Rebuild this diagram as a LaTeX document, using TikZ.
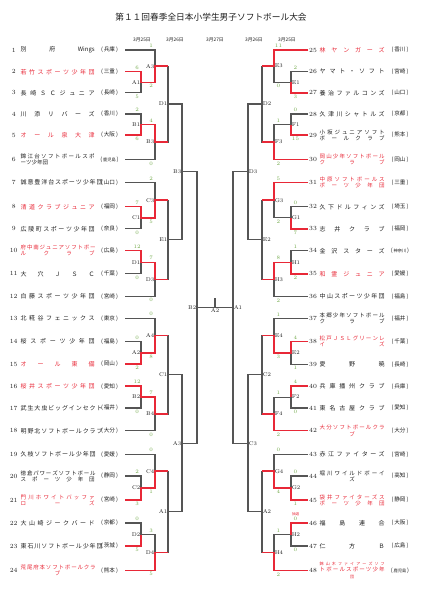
\documentclass[tikz,border=0pt]{standalone}
\usepackage{fontspec}
\newfontfamily\jp{Noto Sans CJK JP}
\usetikzlibrary{positioning, calc}
\definecolor{linha}{RGB}{85,85,85}
\definecolor{verm}{RGB}{232,40,55}
\definecolor{texto}{RGB}{30,30,30}
\definecolor{verdeplacar}{RGB}{112,168,72}
\newlength\largnome
\setlength\largnome{74pt}
\newcommand\linha[1]{\makebox[\largnome][s]{#1}}
\tikzset{
  chave/.style={draw=linha, line width=1.2pt},
  venc/.style={draw=verm, line width=1.5pt},
  numero/.style={font=\fontsize{6.3}{7}\selectfont, text=texto, inner sep=0pt},
  nome/.style={font=\jp\fontsize{6}{7}\selectfont, inner sep=0pt, align=left},
  duas/.style={font=\jp\fontsize{5.5}{6.2}\selectfont},
  pref/.style={font=\jp\fontsize{5.6}{6}\selectfont, text=texto, inner sep=0pt},
  rotulo/.style={font=\fontsize{5.5}{6}\selectfont, text=texto, inner sep=0.6pt},
  placar/.style={font=\fontsize{5.2}{6}\selectfont, text=verdeplacar, inner sep=0pt},
  dia/.style={font=\jp\fontsize{4.8}{5}\selectfont, text=texto, inner sep=0pt},
}
% times da esquerda e da direita
\newcommand\timeE[6][]{%
  \node[numero] (n#2) at (13.7,#3) {#2};
  \node[nome, anchor=west, text=#6, #1] (t#2) at (20.5,#3) {#4};
  \node[pref] (p#2) at (109.5,#3) {(\,#5\,)};
  \coordinate (e#2) at (125,#3);
}
\newcommand\timeD[6][]{%
  \node[numero, anchor=west] (n#2) at (309,#3) {#2};
  \node[nome, anchor=west, text=#6, #1] (t#2) at (319.5,#3) {#4};
  \node[pref] (p#2) at (400,#3) {(\,#5\,)};
  \coordinate (e#2) at (308,#3);
}
\newcommand\pq[1]{{\fontsize{4.2}{5}\selectfont #1}}
% jogo: topo, base, coluna, nome, rotulo, ancora
\newcommand\jogo[6]{%
  \draw[chave] (#1) -- (#1 -| #3) -- (#2 -| #3) -- (#2);
  \coordinate (#4) at ($(#1 -| #3)!0.5!(#2 -| #3)$);
  \node[rotulo, anchor=#6] (r#4) at (#4) {#5};
}

\begin{document}
\begin{tikzpicture}[x=1pt, y=-1pt]
  \useasboundingbox (0,0) rectangle (422,598);

  \node[font=\jp\fontsize{8.7}{10}\selectfont, text=texto, inner sep=0pt] (titulo) at (211,17)
    {第１１回春季全日本小学生男子ソフトボール大会};

  \node[dia] (dia1) at (142,40) {3月25日};
  \node[dia] (dia2) at (175,40) {3月26日};
  \node[dia] (dia3) at (215,40) {3月27日};
  \node[dia] (dia4) at (254,40) {3月26日};
  \node[dia] (dia5) at (287,40) {3月25日};

  % colunas
  \coordinate (cE1) at (141,0);
  \coordinate (cE2) at (155,0);
  \coordinate (cE3) at (168,0);
  \coordinate (cE4) at (182,0);
  \coordinate (cE5) at (197,0);
  \coordinate (cD1) at (291,0);
  \coordinate (cD2) at (274,0);
  \coordinate (cD3) at (262,0);
  \coordinate (cD4) at (248,0);
  \coordinate (cD5) at (233,0);

  \timeE{1}{50}{\linha{別 府 Wings}}{兵庫}{texto}
  \timeE{2}{71.7}{\linha{若 竹 ス ポ ー ツ 少 年 団}}{三重}{verm}
  \timeE{3}{92.8}{\linha{長 崎 Ｓ Ｃ ジ ュ ニ ア}}{長崎}{texto}
  \timeE{4}{114}{\linha{川 添 リ バ ー ズ}}{香川}{texto}
  \timeE{5}{135}{\linha{オ ー ル 泉 大 津}}{大阪}{verm}
  \timeE[duas]{6}{159.5}{\linha{錦 江 台 ソ フ ト ボ ー ル ス ポ}\\\linha{ーツ少年団\hfill}}{\pq{鹿児島}}{texto}
  \timeE{7}{182.5}{\linha{誠 意 豊 洋 台 ス ポ ー ツ 少 年 団}}{山口}{texto}
  \timeE{8}{206.7}{\linha{清 道 ク ラ ブ ジ ュ ニ ア}}{福岡}{verm}
  \timeE{9}{228.8}{\linha{広 陵 町 ス ポ ー ツ 少 年 団}}{奈良}{texto}
  \timeE[duas]{10}{250.7}{\linha{府 中 南 ジ ュ ニ ア ソ フ ト ボ ー}\\\linha{ル ク ラ ブ}}{広島}{verm}
  \timeE{11}{273.8}{\linha{大 穴 Ｊ Ｓ Ｃ}}{千葉}{texto}
  \timeE{12}{296.3}{\linha{白 藤 ス ポ ー ツ 少 年 団}}{宮崎}{texto}
  \timeE{13}{318.3}{\linha{北 糀 谷 フ ェ ニ ッ ク ス}}{東京}{texto}
  \timeE{14}{341.5}{\linha{桜 ス ポ ー ツ 少 年 団}}{福島}{texto}
  \timeE{15}{364.2}{\linha{オ ー ル 東 備}}{岡山}{verm}
  \timeE{16}{386.2}{\linha{桜 井 ス ポ ー ツ 少 年 団}}{愛知}{verm}
  \timeE{17}{408}{\linha{武 生 大 虫 ビ ッ グ イ ン セ ク ト}}{福井}{texto}
  \timeE{18}{430.7}{\linha{明 野 北 ソ フ ト ボ ー ル ク ラ ブ}}{大分}{texto}
  \timeE{19}{454.3}{\linha{久 枝 ソ フ ト ボ ー ル 少 年 団}}{愛媛}{texto}
  \timeE[duas]{20}{476}{\linha{徳 倉 パ ワ ー ズ ソ フ ト ボ ー ル}\\\linha{ス ポ ー ツ 少 年 団}}{静岡}{texto}
  \timeE[duas]{21}{500}{\linha{門 川 ホ ワ イ ト バ ッ フ ァ}\\\linha{ロ ー ズ}}{宮崎}{verm}
  \timeE{22}{523}{\linha{大 山 崎 ジ ー ク バ ー ド}}{京都}{texto}
  \timeE{23}{546}{\linha{東 石 川 ソ フ ト ボ ー ル 少 年 団}}{茨城}{texto}
  \timeE[duas]{24}{570.3}{\linha{荒 尾 府 本 ソ フ ト ボ ー ル ク ラ}\\\linha{\hfill ブ\hfill}}{熊本}{verm}

  \setlength\largnome{65pt}
  \timeD{25}{50}{\linha{林 ヤ ン ガ ー ズ}}{香川}{verm}
  \timeD{26}{71.7}{\linha{ヤ マ ト ・ ソ フ ト}}{宮崎}{texto}
  \timeD{27}{92.8}{\linha{養 治 フ ァ ル コ ン ズ}}{山口}{texto}
  \timeD{28}{114}{\linha{久 津 川 シ ャ ト ル ズ}}{京都}{texto}
  \timeD[duas]{29}{135}{\linha{小 坂 ジ ュ ニ ア ソ フ ト}\\\linha{ボ ー ル ク ラ ブ}}{熊本}{texto}
  \timeD[duas]{30}{159.5}{\linha{岡 山 少 年 ソ フ ト ボ ー ル}\\\linha{ク ラ ブ}}{岡山}{verm}
  \timeD[duas]{31}{182.5}{\linha{中 原 ソ フ ト ボ ー ル ス}\\\linha{ポ ー ツ 少 年 団}}{三重}{verm}
  \timeD{32}{206.7}{\linha{久 下 ド ル フ ィ ン ズ}}{埼玉}{texto}
  \timeD{33}{228.8}{\linha{志 井 ク ラ ブ}}{福岡}{texto}
  \timeD{34}{250.7}{\linha{金 沢 ス タ ー ズ}}{\pq{神奈川}}{texto}
  \timeD{35}{273.8}{\linha{和 霊 ジ ュ ニ ア}}{愛媛}{verm}
  \timeD{36}{296.3}{\linha{中 山 ス ポ ー ツ 少 年 団}}{福島}{texto}
  \timeD[duas]{37}{318.3}{\linha{本 郷 少 年 ソ フ ト ボ ー ル}\\\linha{ク ラ ブ}}{福井}{texto}
  \timeD[duas]{38}{341.5}{\linha{松 戸 Ｊ Ｓ Ｌ グ リ ー ン レ}\\\linha{イ ズ}}{千葉}{verm}
  \timeD{39}{364.2}{\linha{愛 野 暁}}{長崎}{texto}
  \timeD{40}{386.2}{\linha{兵 庫 播 州 ク ラ ブ}}{兵庫}{texto}
  \timeD{41}{408}{\linha{東 名 古 屋 ク ラ ブ}}{愛知}{texto}
  \timeD[duas]{42}{430.7}{\linha{大 分 ソ フ ト ボ ー ル ク ラ}\\\linha{\hfill ブ\hfill}}{大分}{verm}
  \timeD{43}{454.3}{\linha{赤 江 フ ァ イ タ ー ズ}}{宮崎}{texto}
  \timeD[duas]{44}{476}{\linha{堀 川 ワ イ ル ド ボ ー イ}\\\linha{\hfill ズ\hfill}}{高知}{texto}
  \timeD[duas]{45}{500}{\linha{袋 井 フ ァ イ タ ー ズ ス}\\\linha{ポ ー ツ 少 年 団}}{静岡}{verm}
  \timeD{46}{523}{\linha{福 島 連 合}}{大阪}{texto}
  \timeD{47}{546}{\linha{仁 方 Ｂ}}{広島}{texto}
  \timeD[duas]{48}{570.3}{\fontsize{4}{4.6}\selectfont\linha{錦 山 木 フ ァ イ ア ー ズ ソ フ}\\
    \fontsize{5.5}{6}\selectfont\linha{ト ボ ー ル ス ポ ー ツ 少 年}\\
    \fontsize{4}{4.6}\selectfont\linha{\hfill 団\hfill}}{\pq{鹿児島}}{verm}

  % esquerda
  \jogo{e2}{e3}{cE1}{l1A1}{A1}{east}
  \jogo{e4}{e5}{cE1}{l1B1}{B1}{east}
  \jogo{e8}{e9}{cE1}{l1C1}{C1}{east}
  \jogo{e10}{e11}{cE1}{l1D1}{D1}{east}
  \jogo{e14}{e15}{cE1}{l1A2}{A2}{east}
  \jogo{e16}{e17}{cE1}{l1B2}{B2}{east}
  \jogo{e20}{e21}{cE1}{l1C2}{C2}{east}
  \jogo{e22}{e23}{cE1}{l1D2}{D2}{east}
  \jogo{e1}{l1A1}{cE2}{l2A3}{A3}{east}
  \jogo{l1B1}{e6}{cE2}{l2B3}{B3}{east}
  \jogo{e7}{l1C1}{cE2}{l2C3}{C3}{east}
  \jogo{l1D1}{e12}{cE2}{l2D3}{D3}{east}
  \jogo{e13}{l1A2}{cE2}{l2A4}{A4}{east}
  \jogo{l1B2}{e18}{cE2}{l2B4}{B4}{east}
  \jogo{e19}{l1C2}{cE2}{l2C4}{C4}{east}
  \jogo{l1D2}{e24}{cE2}{l2D4}{D4}{east}
  \jogo{l2A3}{l2B3}{cE3}{l3D1}{D1}{east}
  \jogo{l2C3}{l2D3}{cE3}{l3E1}{E1}{east}
  \jogo{l2A4}{l2B4}{cE3}{l3C1}{C1}{east}
  \jogo{l2C4}{l2D4}{cE3}{l3A1}{A1}{east}
  \jogo{l3D1}{l3E1}{cE4}{l4B3}{B3}{east}
  \jogo{l3C1}{l3A1}{cE4}{l4A3}{A3}{east}
  \jogo{l4B3}{l4A3}{cE5}{l5B2}{B2}{east}

  % direita
  \jogo{e26}{e27}{cD1}{r1E1}{E1}{west}
  \jogo{e28}{e29}{cD1}{r1F1}{F1}{west}
  \jogo{e32}{e33}{cD1}{r1G1}{G1}{west}
  \jogo{e34}{e35}{cD1}{r1H1}{H1}{west}
  \jogo{e38}{e39}{cD1}{r1E2}{E2}{west}
  \jogo{e40}{e41}{cD1}{r1F2}{F2}{west}
  \jogo{e44}{e45}{cD1}{r1G2}{G2}{west}
  \jogo{e46}{e47}{cD1}{r1H2}{H2}{west}
  \jogo{e25}{r1E1}{cD2}{r2E3}{E3}{west}
  \jogo{r1F1}{e30}{cD2}{r2F3}{F3}{west}
  \jogo{e31}{r1G1}{cD2}{r2G3}{G3}{west}
  \jogo{r1H1}{e36}{cD2}{r2H3}{H3}{west}
  \jogo{e37}{r1E2}{cD2}{r2E4}{E4}{west}
  \jogo{r1F2}{e42}{cD2}{r2F4}{F4}{west}
  \jogo{e43}{r1G2}{cD2}{r2G4}{G4}{west}
  \jogo{r1H2}{e48}{cD2}{r2H4}{H4}{west}
  \jogo{r2E3}{r2F3}{cD3}{r3D2}{D2}{west}
  \jogo{r2G3}{r2H3}{cD3}{r3E2}{E2}{west}
  \jogo{r2E4}{r2F4}{cD3}{r3C2}{C2}{west}
  \jogo{r2G4}{r2H4}{cD3}{r3A2}{A2}{west}
  \jogo{r3D2}{r3E2}{cD4}{r4D3}{D3}{west}
  \jogo{r3C2}{r3A2}{cD4}{r4C3}{C3}{west}
  \jogo{r4D3}{r4C3}{cD5}{r5A1}{A1}{west}

  % final
  \draw[chave] (l5B2) -- (r5A1);
  \coordinate (fin) at ($(l5B2)!0.5!(r5A1)$);
  \coordinate (topo) at ($(fin)+(0,-10)$);
  \draw[chave] (fin) -- (topo);
  \node[rotulo, below=0.5pt of fin] (rfin) {A2};

  % vencedores do dia 25
  \draw[venc] (e2) -- (e2 -| cE1) -- (l1A1) -- (l1A1 -| cE2) -- (l2A3) -- (l2A3 -| cE3);
  \draw[venc] (e5) -- (e5 -| cE1) -- (l1B1) -- (l1B1 -| cE2) -- (l2B3) -- (l2B3 -| cE3);
  \draw[venc] (e8) -- (e8 -| cE1) -- (l1C1) -- (l1C1 -| cE2) -- (l2C3) -- (l2C3 -| cE3);
  \draw[venc] (e10) -- (e10 -| cE1) -- (l1D1) -- (l1D1 -| cE2) -- (l2D3) -- (l2D3 -| cE3);
  \draw[venc] (e15) -- (e15 -| cE1) -- (l1A2) -- (l1A2 -| cE2) -- (l2A4) -- (l2A4 -| cE3);
  \draw[venc] (e16) -- (e16 -| cE1) -- (l1B2) -- (l1B2 -| cE2) -- (l2B4) -- (l2B4 -| cE3);
  \draw[venc] (e21) -- (e21 -| cE1) -- (l1C2) -- (l1C2 -| cE2) -- (l2C4) -- (l2C4 -| cE3);
  \draw[venc] (e23) -- (e23 -| cE1) -- (l1D2);
  \draw[venc] (e24) -- (e24 -| cE2) -- (l2D4) -- (l2D4 -| cE3);
  \draw[venc] (e25) -- (e25 -| cD2) -- (r2E3) -- (r2E3 -| cD3);
  \draw[venc] (e27) -- (e27 -| cD1) -- (r1E1);
  \draw[venc] (e29) -- (e29 -| cD1) -- (r1F1);
  \draw[venc] (e30) -- (e30 -| cD2) -- (r2F3) -- (r2F3 -| cD3);
  \draw[venc] (e31) -- (e31 -| cD2) -- (r2G3) -- (r2G3 -| cD3);
  \draw[venc] (e33) -- (e33 -| cD1) -- (r1G1);
  \draw[venc] (e35) -- (e35 -| cD1) -- (r1H1) -- (r1H1 -| cD2) -- (r2H3) -- (r2H3 -| cD3);
  \draw[venc] (e38) -- (e38 -| cD1) -- (r1E2) -- (r1E2 -| cD2) -- (r2E4) -- (r2E4 -| cD3);
  \draw[venc] (e40) -- (e40 -| cD1) -- (r1F2);
  \draw[venc] (e42) -- (e42 -| cD2) -- (r2F4) -- (r2F4 -| cD3);
  \draw[venc] (e45) -- (e45 -| cD1) -- (r1G2) -- (r1G2 -| cD2) -- (r2G4) -- (r2G4 -| cD3);
  \draw[venc] (e46) -- (e46 -| cD1) -- (r1H2);
  \draw[venc] (e48) -- (e48 -| cD2) -- (r2H4) -- (r2H4 -| cD3);

  % placares
  \foreach \p/\c/\dy/\v [count=\k] in {
    e2/cE1/-1/6, e3/cE1/1/5, e4/cE1/-1/2, e5/cE1/1/6, e8/cE1/-1/7, e9/cE1/1/0,
    e10/cE1/-1/12, e11/cE1/1/0, e14/cE1/-1/0, e15/cE1/1/2, e16/cE1/-1/12, e17/cE1/1/0,
    e20/cE1/-1/2, e21/cE1/1/3, e22/cE1/-1/0, e23/cE1/1/5,
    e1/cE2/-1/1, l1A1/cE2/1/2, l1B1/cE2/-1/4, e6/cE2/1/0, e7/cE2/-1/2, l1C1/cE2/1/5,
    l1D1/cE2/-1/7, e12/cE2/1/0, e13/cE2/-1/0, l1A2/cE2/1/8, l1B2/cE2/-1/7, e18/cE2/1/0,
    e19/cE2/-1/0, l1C2/cE2/1/1, l1D2/cE2/-1/3, e24/cE2/1/5}
    \node[placar] (sE\k) at ($(\p -| \c)+(-3.8,4*\dy)$) {\v};
  \foreach \p/\c/\dy/\v [count=\k] in {
    e26/cD1/-1/2, e27/cD1/1/3, e28/cD1/-1/0, e29/cD1/1/15, e32/cD1/-1/0, e33/cD1/1/7,
    e34/cD1/-1/1, e35/cD1/1/2, e38/cD1/-1/4, e39/cD1/1/1, e40/cD1/-1/4, e41/cD1/1/0,
    e44/cD1/-1/0, e45/cD1/1/1, e46/cD1/-1/0, e47/cD1/1/0,
    e25/cD2/-1/11, r1E1/cD2/1/0, r1F1/cD2/-1/1, e30/cD2/1/2, e31/cD2/-1/5, r1G1/cD2/1/2,
    r1H1/cD2/-1/8, e36/cD2/1/2, e37/cD2/-1/1, r1E2/cD2/1/3, r1F2/cD2/-1/1, e42/cD2/1/2,
    e43/cD2/-1/0, r1G2/cD2/1/4, r1H2/cD2/-1/1, e48/cD2/1/2}
    \node[placar] (sD\k) at ($(\p -| \c)+(4.5,4*\dy)$) {\v};
  \node[font=\jp\fontsize{3.5}{4}\selectfont, text=verm, inner sep=0pt, above=1pt of sD15] (sorteio) {抽選};
\end{tikzpicture}
\end{document}
